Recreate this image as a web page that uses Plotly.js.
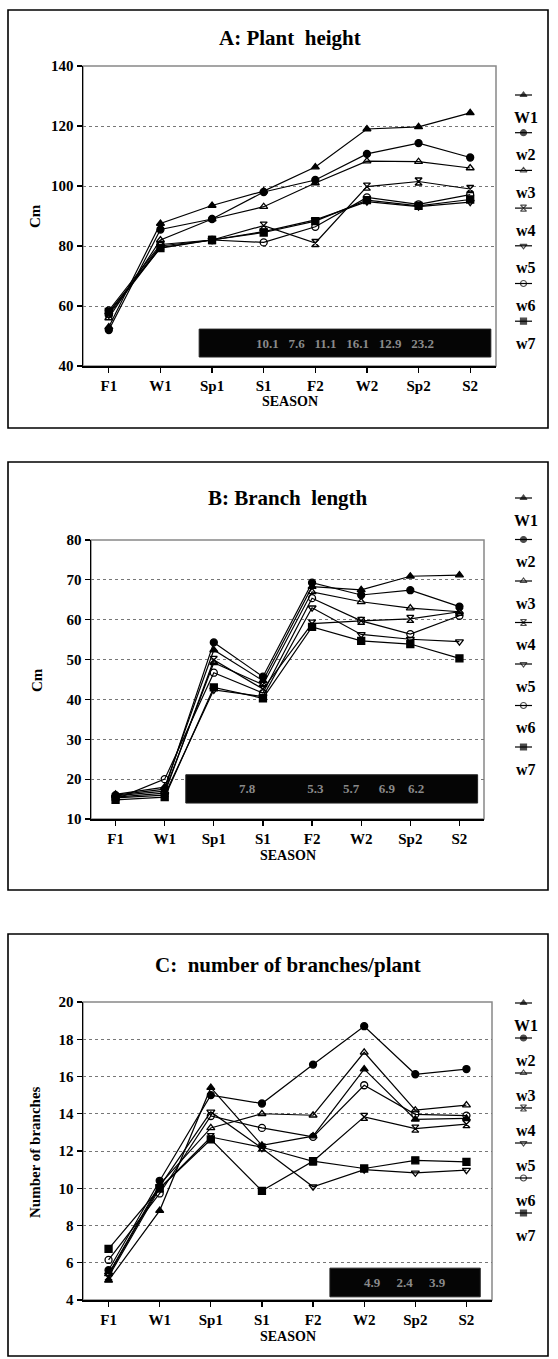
<!DOCTYPE html>
<html><head><meta charset="utf-8">
<script src="https://cdn.plot.ly/plotly-3.0.1.min.js"></script>
<style>html,body{margin:0;padding:0;background:#fff}#chart{width:558px;height:1359px}</style>
</head><body><div id="chart"></div>
<script>
const seasons = ['F1','W1','Sp1','S1','F2','W2','Sp2','S2'];
const seriesNames = ['W1','w2','w3','w4','w5','w6','w7'];
const seriesSymbols = ['triangle-up','circle','triangle-up-open','hourglass-open','triangle-down-open','circle-open','square'];

// A: Plant height (cm)
const heightW1 = [53, 87.5, 93.5, 98.3, 106.3, 119, 119.7, 124.4];
const heightW2 = [52, 85.5, 89, 98, 102, 110.7, 114.3, 109.5];
const heightW3 = [56, 82, 89, 93.1, 101, 108.3, 108.1, 106];
const heightW4 = [57.5, 80, 82, 86.8, 81, 99.8, 101.5, 99];
const heightW5 = [57, 79.5, 82, 84.8, 88.7, 94.8, 93.1, 94.6];
const heightW6 = [58.5, 80.5, 82, 81.2, 86.4, 96.2, 93.9, 97.1];
const heightW7 = [58, 79.3, 82, 84.5, 88.3, 95.3, 93.4, 95.5];

// B: Branch length (cm)
const branchW1 = [16.2, 18, 52.4, 44.7, 68.3, 67.5, 70.9, 71.2];
const branchW2 = [16, 17.5, 54.3, 45.7, 69.3, 66.2, 67.4, 63.3];
const branchW3 = [15.8, 17, 49.2, 43.7, 67, 64.5, 62.9, 62];
const branchW4 = [15.5, 16.5, 49.9, 42.6, 59, 59.7, 60.2, 62];
const branchW5 = [15.3, 16, 42.4, 40.7, 63, 56.3, 55.1, 54.5];
const branchW6 = [15, 20, 46.7, 41.6, 65.4, 59.7, 56.4, 61];
const branchW7 = [14.8, 15.5, 43, 40.3, 58.2, 54.7, 53.9, 50.3];

// C: number of branches / plant
const numW1 = [5.05, 8.8, 15.4, 12.3, 12.8, 16.4, 13.7, 13.75];
const numW2 = [5.6, 10.4, 15.0, 14.55, 16.64, 18.7, 16.12, 16.4];
const numW3 = [5.4, 10.2, 13.24, 14.0, 13.92, 17.3, 14.19, 14.46];
const numW4 = [5.25, 10.0, 12.75, 12.2, 11.45, 13.83, 13.2, 13.44];
const numW5 = [5.35, 10.1, 14.1, 12.15, 10.08, 11.0, 10.83, 10.97];
const numW6 = [6.15, 9.72, 13.88, 13.24, 12.76, 15.53, 13.97, 13.9];
const numW7 = [6.75, 10.0, 12.62, 9.86, 11.45, 11.06, 11.5, 11.42];

// statistic strip texts (barely legible in source)
const boxTextA = '10.1   7.6   11.1   16.1   12.9   23.2';
const boxTextB = '7.8                5.3      5.7      6.9    6.2';
const boxTextC = '4.9     2.4     3.9';

const W = 558, H = 1359;
const px = p => p / W;
const py = p => 1 - p / H;
const SERIF = 'Liberation Serif, Times New Roman, serif';

const panels = [
  {data:[heightW1,heightW2,heightW3,heightW4,heightW5,heightW6,heightW7],
   plot:[83,496,66,366], yr:[40,140], dt:20, title:'A: Plant  height', titleY:38,
   ytitle:'Cm', ytitleX:35, ytitleY:216, seasonY:401,
   frame:[8,10,548,428], box:[1.75,7.4,43,52.3], boxText:boxTextA,
   leg0:95, legStep:37.7},
  {data:[branchW1,branchW2,branchW3,branchW4,branchW5,branchW6,branchW7],
   plot:[91,484,540,819], yr:[10,80], dt:10, title:'B: Branch  length', titleY:498,
   ytitle:'Cm', ytitleX:37, ytitleY:680, seasonY:855,
   frame:[8,462,548,890], box:[1.43,7.37,14.0,21.1], boxText:boxTextB,
   leg0:498, legStep:41.5},
  {data:[numW1,numW2,numW3,numW4,numW5,numW6,numW7],
   plot:[83,492,1002,1300], yr:[4,20], dt:2, title:'C:  number of branches/plant', titleY:965,
   ytitle:'Number of branches', ytitleX:35, ytitleY:1152, seasonY:1336,
   frame:[8,934,548,1356], box:[4.33,7.27,4.17,5.71], boxText:boxTextC,
   leg0:1003, legStep:35}
];

const traces = [];
const layout = {
  width: W, height: H, margin:{l:0,r:0,t:0,b:0},
  paper_bgcolor:'#fff', plot_bgcolor:'rgba(0,0,0,0)', showlegend:false,
  shapes:[], annotations:[]
};

panels.forEach((p, k) => {
  const n = k + 1;
  const xa = 'xaxis' + (n === 1 ? '' : n), ya = 'yaxis' + (n === 1 ? '' : n);
  const xr = 'x' + (n === 1 ? '' : n), yr = 'y' + (n === 1 ? '' : n);
  layout[xa] = {
    domain:[px(p.plot[0]), px(p.plot[1])], anchor: yr, type:'category',
    range:[-0.5, 7.5], showgrid:false, zeroline:false,
    showline:true, linecolor:'#000', linewidth:1.5,
    ticks:'outside', ticklen:5, tickcolor:'#000', tickwidth:1.2,
    tickfont:{family:SERIF, size:15, color:'#000', weight:'bold'}
  };
  layout[ya] = {
    domain:[py(p.plot[3]), py(p.plot[2])], anchor: xr,
    range:p.yr, dtick:p.dt, tick0:p.yr[0], showgrid:true, gridcolor:'#777', gridwidth:1, griddash:'dot',
    zeroline:false, showline:true, linecolor:'#000', linewidth:1.5,
    ticks:'outside', ticklen:5, tickcolor:'#000', tickwidth:1.2,
    tickfont:{family:SERIF, size:15, color:'#000', weight:'bold'}
  };
  p.data.forEach((vals, i) => {
    traces.push({
      x: seasons, y: vals, xaxis: xr, yaxis: yr, type:'scatter', mode:'lines+markers',
      name: seriesNames[i],
      line:{color:'#000', width:1.2},
      marker:{symbol:seriesSymbols[i], size:7, color:'#000', line:{color:'#000', width:1.3}}
    });
  });
  // plot frame (grey)
  layout.shapes.push({type:'rect', xref:'paper', yref:'paper', x0:px(p.plot[0]), x1:px(p.plot[1]),
    y0:py(p.plot[3]), y1:py(p.plot[2]), line:{color:'#888', width:1.5}, layer:'below'});
  // outer frame
  layout.shapes.push({type:'rect', xref:'paper', yref:'paper', x0:px(p.frame[0]), x1:px(p.frame[2]),
    y0:py(p.frame[3]), y1:py(p.frame[1]), line:{color:'#000', width:1.6}});
  // black statistic strip
  layout.shapes.push({type:'rect', xref:xr, yref:yr, x0:p.box[0], x1:p.box[1], y0:p.box[2], y1:p.box[3],
    fillcolor:'#050505', line:{color:'#222', width:1}, layer:'above'});
  layout.annotations.push({xref:xr, yref:yr, x:(p.box[0]+p.box[1])/2, y:(p.box[2]+p.box[3])/2,
    text:p.boxText, showarrow:false, font:{family:SERIF, size:13, color:'#8a8a8a', weight:'bold'}});
  // title
  layout.annotations.push({xref:'paper', yref:'paper', x:px((p.plot[0]+p.plot[1])/2), y:py(p.titleY),
    xanchor:'center', yanchor:'middle', text:p.title, showarrow:false,
    font:{family:SERIF, size:21, color:'#000', weight:'bold'}});
  // y title
  layout.annotations.push({xref:'paper', yref:'paper', x:px(p.ytitleX), y:py(p.ytitleY),
    xanchor:'center', yanchor:'middle', textangle:-90, text:p.ytitle, showarrow:false,
    font:{family:SERIF, size:15, color:'#000', weight:'bold'}});
  // x title
  layout.annotations.push({xref:'paper', yref:'paper', x:px((p.plot[0]+p.plot[1])/2), y:py(p.seasonY),
    xanchor:'center', yanchor:'middle', text:'SEASON', showarrow:false,
    font:{family:SERIF, size:14, color:'#000', weight:'bold'}});
});

// legend axis: strip at the right edge, in page pixels
const LX0 = 505;
layout.xaxis4 = {domain:[px(LX0),1], range:[LX0,W], visible:false, fixedrange:true, anchor:'y4'};
layout.yaxis4 = {domain:[0,1], range:[H,0], visible:false, fixedrange:true, anchor:'x4'};
panels.forEach(p => {
  seriesNames.forEach((nm, i) => {
    const yy = p.leg0 + i * p.legStep;
    traces.push({x:[515, 523.5, 532], y:[yy, yy, yy], xaxis:'x4', yaxis:'y4', type:'scatter',
      mode:'lines+markers', line:{color:'#000', width:1.2}, hoverinfo:'skip',
      marker:{symbol:seriesSymbols[i], size:[0,6,0], color:'#000', line:{color:'#000', width:1.2}}});
    layout.annotations.push({xref:'paper', yref:'paper', x:px(526), y:py(yy + 22),
      xanchor:'center', yanchor:'middle', text:nm, showarrow:false,
      font:{family:SERIF, size:16, color:'#000', weight:'bold'}});
  });
});

Plotly.newPlot('chart', traces, layout, {staticPlot:true, displayModeBar:false});
</script></body></html>
